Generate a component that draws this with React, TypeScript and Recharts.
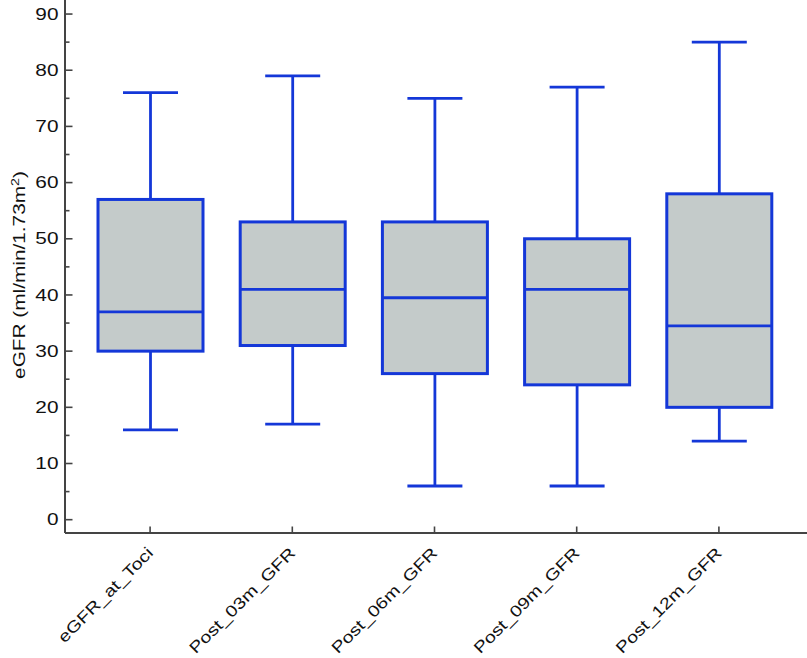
import React from 'react';
import { BarChart, Bar, XAxis, YAxis } from 'recharts';

const categories = ['eGFR_at_Toci', 'Post_03m_GFR', 'Post_06m_GFR', 'Post_09m_GFR', 'Post_12m_GFR'];
const mins = [16, 17, 6, 6, 14];
const q1s = [30, 31, 26, 24, 20];
const medians = [37, 41, 39.5, 41, 34.5];
const q3s = [57, 53, 53, 50, 58];
const maxs = [76, 79, 75, 77, 85];
const majorTicks = [0, 10, 20, 30, 40, 50, 60, 70, 80, 90];
const minorTicks = [5, 15, 25, 35, 45, 55, 65, 75, 85];

const data = categories.map((name, i) => ({
  name,
  min: mins[i],
  q1: q1s[i],
  median: medians[i],
  q3: q3s[i],
  max: maxs[i],
  range: [mins[i], maxs[i]],
}));

const BLUE = '#1437d8';
const FILL = '#c4cbca';
const AXIS = '#444444';
const FONT = '"Liberation Sans", Arial, Helvetica, sans-serif';
const STRETCH = 1.3;
const XSTRETCH = 1.24;

const BoxShape = (props: any) => {
  const { x, y, width, height, payload } = props;
  const top = Math.min(y, y + height);
  const bot = Math.max(y, y + height);
  const { min, q1, median, q3, max } = payload;
  const py = (v: number) => bot - ((v - min) / (max - min)) * (bot - top);
  const cx = x + width / 2;
  const cap = 55;
  return (
    <g>
      <line x1={cx} x2={cx} y1={py(max)} y2={py(q3)} stroke={BLUE} strokeWidth={2.8} />
      <line x1={cx} x2={cx} y1={py(q1)} y2={py(min)} stroke={BLUE} strokeWidth={2.8} />
      <line x1={cx - cap / 2} x2={cx + cap / 2} y1={py(max)} y2={py(max)} stroke={BLUE} strokeWidth={2.8} />
      <line x1={cx - cap / 2} x2={cx + cap / 2} y1={py(min)} y2={py(min)} stroke={BLUE} strokeWidth={2.8} />
      <rect x={x} y={py(q3)} width={width} height={py(q1) - py(q3)} fill={FILL} stroke={BLUE} strokeWidth={3} />
      <line x1={x} x2={x + width} y1={py(median)} y2={py(median)} stroke={BLUE} strokeWidth={2.8} />
    </g>
  );
};

const YTick = (props: any) => {
  const { x, y, payload } = props;
  const v = payload.value;
  const major = majorTicks.includes(v);
  return (
    <g>
      <line x1={x} x2={x + (major ? 7.5 : 4.5)} y1={y} y2={y} stroke={AXIS} strokeWidth={1.6} />
      {major && (
        <g transform={`translate(${x - 6.5},${y}) scale(${STRETCH},1)`}>
          <text x={0} y={0} dy="0.355em" textAnchor="end" fontSize={16} fontFamily={FONT} fill="#111">
            {v}
          </text>
        </g>
      )}
    </g>
  );
};

const XTick = (props: any) => {
  const { x, y, payload } = props;
  const ax = x + 4;
  const ay = y + 21;
  return (
    <g>
      <line x1={x} x2={x} y1={y} y2={y - 6.5} stroke={AXIS} strokeWidth={1.6} />
      <g transform={`translate(${ax},${ay}) rotate(-45) scale(${XSTRETCH},1)`}>
        <text x={0} y={0} textAnchor="end" fontSize={16} fontFamily={FONT} fill="#111">
          {payload.value}
        </text>
      </g>
    </g>
  );
};

const YLabel = () => (
  <g transform={`translate(25,275) rotate(-90) scale(${STRETCH},1)`}>
    <text x={0} y={0} textAnchor="middle" fontSize={16} fontFamily={FONT} fill="#111">
      eGFR (ml/min/1.73m
      <tspan dy={-6} fontSize={11}>2</tspan>
      <tspan dy={6}>)</tspan>
    </text>
  </g>
);

export default function App() {
  return (
    <div style={{ position: 'absolute', left: 0, top: 0, width: 807, height: 658, background: '#fff' }}>
      <BarChart width={807} height={658} data={data} margin={{ top: 0, right: 0, bottom: 0, left: 0 }} barSize={105}>
        <XAxis
          dataKey="name"
          height={125}
          padding={{ left: 14, right: 17 }}
          tickSize={0}
          tickMargin={0}
          tickLine={false}
          axisLine={{ stroke: AXIS, strokeWidth: 2 }}
          tick={(p: any) => <XTick {...p} />}
          interval={0}
        />
        <YAxis
          type="number"
          width={65}
          domain={[-2.37, 92.5]}
          allowDataOverflow
          ticks={[...majorTicks, ...minorTicks].sort((a, b) => a - b)}
          interval={0}
          tickSize={0}
          tickMargin={0}
          tickLine={false}
          axisLine={{ stroke: AXIS, strokeWidth: 2 }}
          tick={(p: any) => <YTick {...p} />}
        />
        <Bar dataKey="range" shape={(p: any) => <BoxShape {...p} />} isAnimationActive={false} />
        <YLabel />
      </BarChart>
    </div>
  );
}
